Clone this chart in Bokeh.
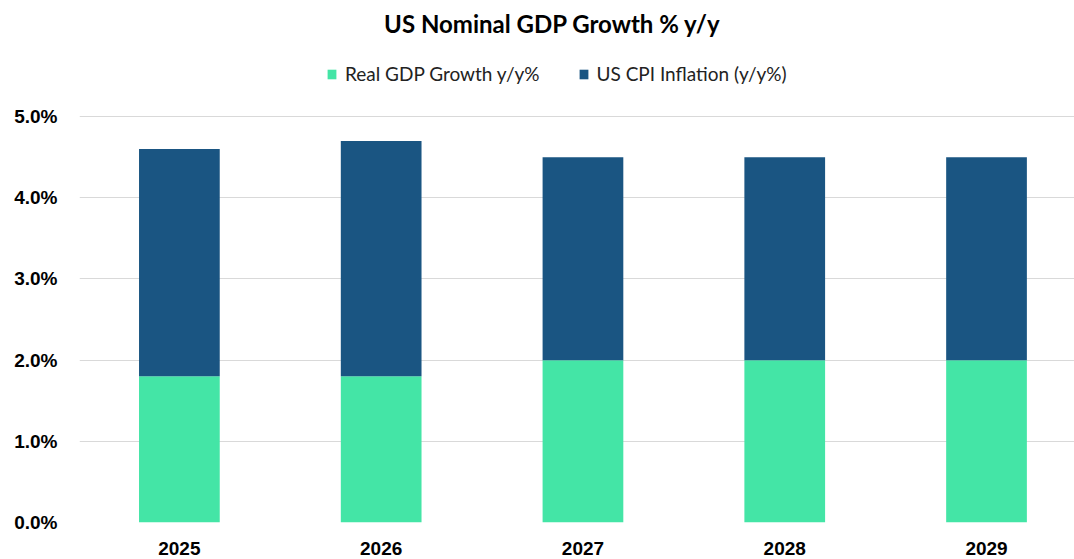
from bokeh.plotting import figure
from bokeh.models import Range1d, FixedTicker, PrintfTickFormatter, Legend, LegendItem, Label
from bokeh.embed import file_html
from bokeh.resources import INLINE

# ---- data ----
years = [2025, 2026, 2027, 2028, 2029]
year_labels = ["2025", "2026", "2027", "2028", "2029"]
real_gdp = [1.8, 1.8, 2.0, 2.0, 2.0]
cpi_inflation = [2.8, 2.9, 2.5, 2.5, 2.5]
series_names = ["Real GDP Growth y/y%", "US CPI Inflation (y/y%)"]
colors = ["#44E5A6", "#1A5582"]
y_ticks = [0, 1, 2, 3, 4, 5]
title_text = "US Nominal GDP Growth % y/y"

source = dict(x=years, real=real_gdp, cpi=cpi_inflation)

p = figure(
    width=1074, height=559,
    output_backend="svg", toolbar_location=None,
    x_range=Range1d(years[0] - 0.495, years[-1] + 0.436),
    y_range=Range1d(0, 6.43),
    min_border_left=79, min_border_right=0, min_border_top=0, min_border_bottom=37,
)

renderers = p.vbar_stack(["real", "cpi"], x="x", width=0.40, source=source,
                         color=colors, line_color=None)

# title as a screen-positioned label
title = Label(x=473, y=499, x_units="screen", y_units="screen", text=title_text,
              text_align="center", text_baseline="alphabetic",
              text_font="Lato", text_font_size="24px", text_font_style="bold",
              text_color="#000000")
p.add_layout(title)

# legend
legend = Legend(
    items=[LegendItem(label=series_names[i], renderers=[renderers[i]]) for i in range(2)],
    orientation="horizontal",
    location=(247, 437),
    label_text_font="Lato",
    label_text_font_size="19px",
    label_text_color="#222222",
    glyph_width=11, glyph_height=12,
    label_standoff=8, spacing=38,
    padding=0, margin=0,
    border_line_color=None, background_fill_alpha=0,
)
p.add_layout(legend, "center")

# axes
p.xaxis.ticker = FixedTicker(ticks=years)
p.xaxis.major_label_overrides = {y: l for y, l in zip(years, year_labels)}
p.yaxis.ticker = FixedTicker(ticks=y_ticks)
p.yaxis.formatter = PrintfTickFormatter(format="%.1f%%")
for ax in (p.xaxis[0], p.yaxis[0]):
    ax.axis_line_color = None
    ax.major_tick_line_color = None
    ax.minor_tick_line_color = None
    ax.major_label_text_font = "Liberation Sans"
    ax.major_label_text_font_style = "bold"
    ax.major_label_text_font_size = "19px"
    ax.major_label_text_color = "#000000"
p.xaxis.major_label_standoff = 13
p.yaxis.major_label_standoff = 16

p.xgrid.grid_line_color = None
p.ygrid.grid_line_color = "#D9D9D9"
p.ygrid.grid_line_width = 1
p.outline_line_color = None
p.background_fill_color = "white"
p.border_fill_color = "white"

open("out.html", "w").write(file_html(p, INLINE))
